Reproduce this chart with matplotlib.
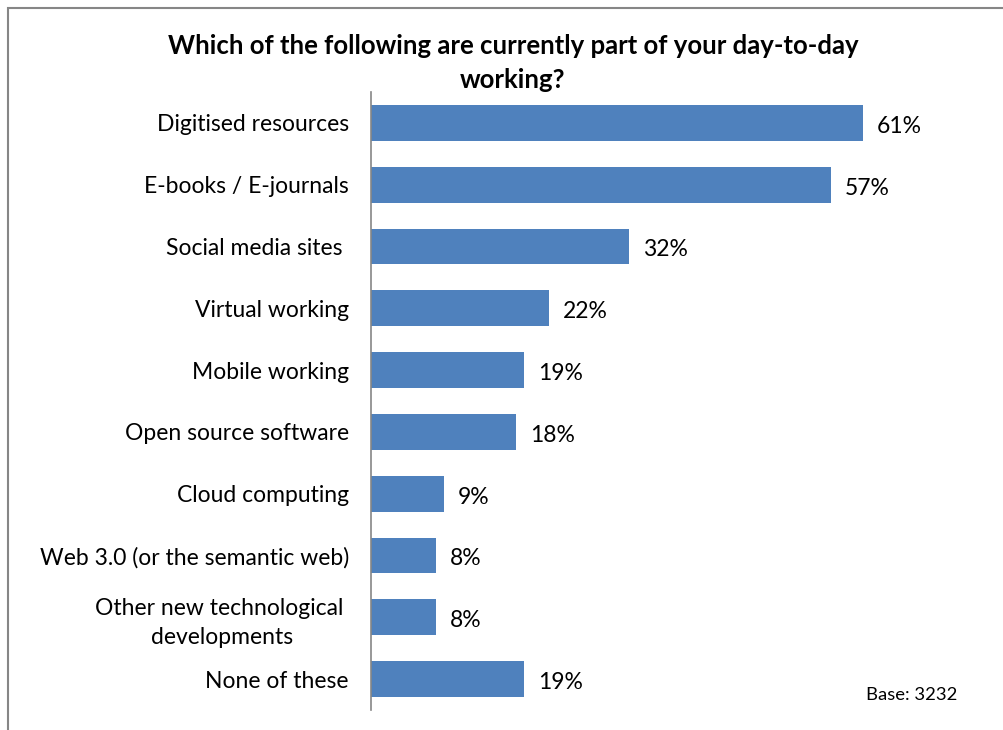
import matplotlib.pyplot as plt
from matplotlib.patches import Rectangle

categories = ['Digitised resources', 'E-books / E-journals', 'Social media sites ',
              'Virtual working', 'Mobile working', 'Open source software',
              'Cloud computing', 'Web 3.0 (or the semantic web)',
              'Other new technological \ndevelopments', 'None of these']
values = [61, 57, 32, 22, 19, 18, 9, 8, 8, 19]
value_labels = ['61%', '57%', '32%', '22%', '19%', '18%', '9%', '8%', '8%', '19%']

plt.rcParams['font.family'] = ['Lato', 'DejaVu Sans']

fig = plt.figure(figsize=(10.04, 7.3), dpi=100)
# chart frame
fig.patches.append(Rectangle((8.5 / 1004, -0.05), 1.1, (730 - 7.5) / 730 + 0.05,
                             transform=fig.transFigure, fill=False,
                             edgecolor='#868686', linewidth=1.5))

ax = fig.add_axes([371 / 1004, 20 / 730, 565 / 1004, (710 - 92) / 730])
pos = list(range(len(categories)))
ax.barh(pos, values, height=0.58, color='#4F81BD')
ax.set_ylim(len(categories) - 0.5, -0.5)
ax.set_xlim(0, 70)

for p, v, lab in zip(pos, values, value_labels):
    ax.annotate(lab, (v, p), xytext=(10, -2.5), textcoords='offset points',
                va='center', ha='left', fontsize=16.5)

ax.set_yticks(pos)
ax.set_yticklabels(categories, fontsize=16.5)
for t in ax.get_yticklabels():
    t.set_multialignment('center')
    t.set_linespacing(1.45)
ax.tick_params(axis='y', length=0, pad=16)
ax.set_xticks([])
for s in ['top', 'right', 'bottom']:
    ax.spines[s].set_visible(False)
ax.spines['left'].set_color('#868686')
ax.spines['left'].set_linewidth(1.2)

fig.text(513 / 1004, 1 - 63 / 730,
         'Which of the following are currently part of your day-to-day\nworking?',
         ha='center', va='center', fontsize=18.5, fontweight='bold',
         linespacing=1.5)
fig.text(912 / 1004, 1 - 695 / 730, 'Base: 3232', ha='center', va='center',
         fontsize=13.3)

fig.savefig('out.png', dpi=100)
